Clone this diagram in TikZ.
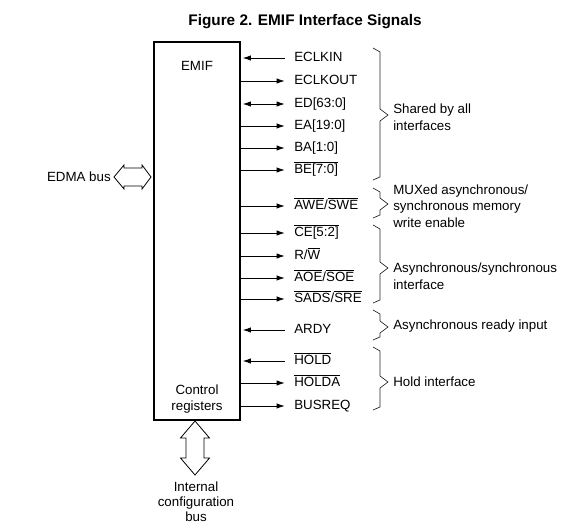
\documentclass[tikz,border=0pt]{standalone}
\usepackage{fontspec}
\setmainfont{Liberation Sans}
\usetikzlibrary{arrows.meta}
\newcommand\ovl[1]{$\overline{\mbox{#1}}$}
\tikzset{
  sig/.style={anchor=west, inner sep=0pt, text height=7.2pt, text depth=2pt},
  sigout/.style={-{Latex[length=6pt,width=4pt]}, line width=0.6pt},
  sigin/.style={{Latex[length=6pt,width=4pt]}-, line width=0.6pt, shorten <=1pt},
  sigbi/.style={{Latex[length=6pt,width=4pt]}-{Latex[length=6pt,width=4pt]}, line width=0.6pt, shorten <=1pt},
  grp/.style={anchor=west, align=left, inner sep=0pt, font=\fontsize{10}{12.5}\selectfont},
  grpline/.style={line width=0.5pt, black!85},
  bus/.style={draw, line width=0.6pt, fill=white, line join=miter}
}
\begin{document}
\begin{tikzpicture}[x=0.75pt, y=-0.75pt, font=\fontsize{10}{12}\selectfont]
  \useasboundingbox (0,0) rectangle (570,530);
  % Title
  \node[font=\fontsize{11.5}{14}\selectfont\bfseries] (title) at (305,22) {Figure 2. EMIF Interface Signals};

  % EMIF block
  \node[draw, line width=2.2pt, minimum width=64.5pt, minimum height=283.5pt, inner sep=0pt] (emif) at (197,231) {};
  \node (emiflbl) at (197,66) {EMIF};
  \node[align=center] (ctrl) at (197,399) {Control\\registers};

  % Signals
  \foreach \n/\y/\dir/\txt in {
    eclkin/58/sigin/{ECLKIN}, eclkout/81/sigout/{ECLKOUT}, ed/104/sigbi/{ED[63:0]},
    ea/126/sigout/{EA[19:0]}, ba/148/sigout/{BA[1:0]}, be/170/sigout/{\ovl{BE[7:0]}},
    awe/206/sigout/{\ovl{AWE}/\ovl{SWE}}, ce/233/sigout/{\ovl{CE[5:2]}},
    rw/256/sigout/{R/\ovl{W}}, aoe/278/sigout/{\ovl{AOE}/\ovl{SOE}},
    sads/299/sigout/{\ovl{SADS}/\ovl{SRE}}, ardy/330/sigin/{ARDY},
    hold/361/sigin/{\ovl{HOLD}}, holda/383/sigout/{\ovl{HOLDA}}, busreq/406/sigout/{BUSREQ}}{
    \node[sig] (\n) at (294,\y) {\txt};
    \draw[\dir] (emif.east |- \n.west) -- ([xshift=-7pt]\n.west);
  }

  % Braces
  \foreach \t/\b/\m in {48/180/115, 188/218/204, 225/303/268, 310/340/327, 347/410/382}
    \draw[grpline] (373,\t) -- (380,\t+4) -- (380,\m-6) -- (388,\m) -- (380,\m+6) -- (380,\b-3) -- (373,\b);

  \node[grp] (shared) at (393,117) {Shared by all\\interfaces};
  \node[grp] (muxed) at (393,206) {MUXed asynchronous/\\synchronous memory\\write enable};
  \node[grp] (async) at (393,276) {Asynchronous/synchronous\\interface};
  \node[grp] (ready) at (393,326) {Asynchronous ready input};
  \node[grp] (holdif) at (393,382) {Hold interface};

  % Buses
  \coordinate (edma) at (133,177);
  \draw[bus, shift={(edma)}] (-19,0) -- (-9,-12) -- (-9,-9) -- (9,-9) -- (9,-12) -- (18,0)
    -- (9,12) -- (9,9) -- (-9,9) -- (-9,12) -- cycle;
  \node[anchor=east, inner sep=0pt] (edmalbl) at (111,177) {EDMA bus};
  \coordinate (cfgbus) at (195,448);
  \draw[bus, shift={(cfgbus)}] (0,-27) -- (14.5,-10) -- (9,-10) -- (9,10) -- (14.5,10) -- (0,27)
    -- (-14.5,10) -- (-9,10) -- (-9,-10) -- (-14.5,-10) -- cycle;
  \node[align=center, font=\fontsize{10}{11.25}\selectfont] (cfglbl) at (196,502) {Internal\\configuration\\bus};
\end{tikzpicture}
\end{document}
